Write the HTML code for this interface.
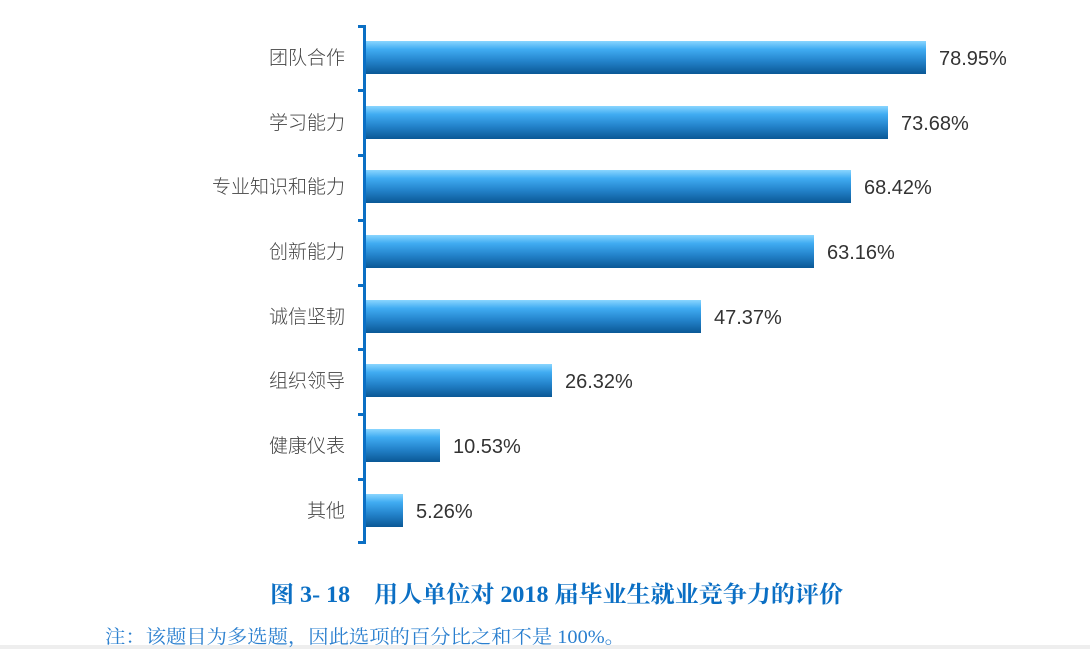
<!DOCTYPE html>
<html><head><meta charset="utf-8"><style>
html,body{margin:0;padding:0;background:#fff;width:1090px;height:649px;overflow:hidden}
</style></head><body>
<svg width="1090" height="649" xmlns="http://www.w3.org/2000/svg" font-family="Liberation Sans, Noto Sans CJK SC, sans-serif">
<defs>
<linearGradient id="g" x1="0" y1="0" x2="0" y2="1">
<stop offset="0" stop-color="#8ad6ff"/>
<stop offset="0.25" stop-color="#40acf2"/>
<stop offset="0.6" stop-color="#2484cc"/>
<stop offset="1" stop-color="#0a5896"/>
</linearGradient>
</defs>
<rect x="0" y="645" width="1090" height="4" fill="#eeeeee"/>
<g fill="#0b6fc4">
<rect x="363" y="25" width="3" height="519"/>
<rect x="358" y="25" width="6" height="3"/>
<rect x="358" y="89" width="6" height="3"/>
<rect x="358" y="154" width="6" height="3"/>
<rect x="358" y="219" width="6" height="3"/>
<rect x="358" y="284" width="6" height="3"/>
<rect x="358" y="348" width="6" height="3"/>
<rect x="358" y="413" width="6" height="3"/>
<rect x="358" y="478" width="6" height="3"/>
<rect x="358" y="541" width="6" height="3"/>
</g>
<g fill="url(#g)">
<rect x="366" y="41" width="560" height="33"/>
<rect x="366" y="106" width="522" height="33"/>
<rect x="366" y="170" width="485" height="33"/>
<rect x="366" y="235" width="448" height="33"/>
<rect x="366" y="300" width="335" height="33"/>
<rect x="366" y="364" width="186" height="33"/>
<rect x="366" y="429" width="74" height="33"/>
<rect x="366" y="494" width="37" height="33"/>
</g>
<g font-size="19" fill="#444" text-anchor="end" font-family="Noto Sans CJK SC, sans-serif" font-weight="300">
<text x="345" y="64">团队合作</text>
<text x="345" y="129">学习能力</text>
<text x="345" y="193">专业知识和能力</text>
<text x="345" y="258">创新能力</text>
<text x="345" y="323">诚信坚韧</text>
<text x="345" y="387">组织领导</text>
<text x="345" y="452">健康仪表</text>
<text x="345" y="517">其他</text>
</g>
<g font-size="20" fill="#333">
<text x="939" y="65">78.95%</text>
<text x="901" y="130">73.68%</text>
<text x="864" y="194">68.42%</text>
<text x="827" y="259">63.16%</text>
<text x="714" y="324">47.37%</text>
<text x="565" y="388">26.32%</text>
<text x="453" y="453">10.53%</text>
<text x="416" y="518">5.26%</text>
</g>
<text x="270" y="602" font-size="23" font-weight="bold" fill="#0b6fc4" font-family="Liberation Serif, Noto Serif CJK SC, serif" textLength="573" lengthAdjust="spacingAndGlyphs">图 3- 18　用人单位对 2018 届毕业生就业竞争力的评价</text>
<text x="105" y="643" font-size="19" fill="#2a7fcf" font-family="Liberation Serif, Noto Serif CJK SC, serif" textLength="520" lengthAdjust="spacingAndGlyphs">注：该题目为多选题，因此选项的百分比之和不是 100%。</text>
</svg>
</body></html>
